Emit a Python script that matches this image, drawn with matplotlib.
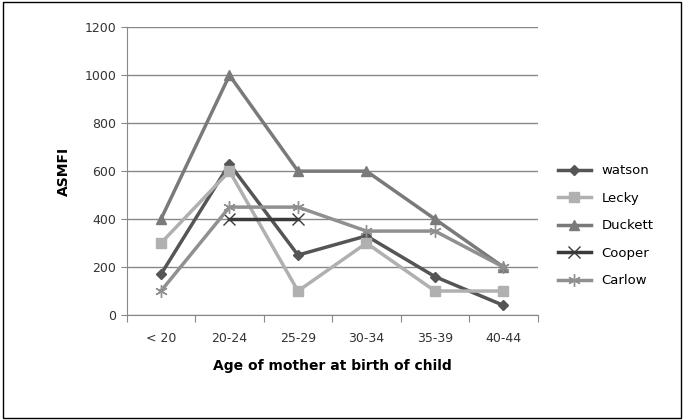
import matplotlib.pyplot as plt

ages = ["< 20", "20-24", "25-29", "30-34", "35-39", "40-44"]
watson = [170, 630, 250, 330, 160, 40]
lecky = [300, 600, 100, 300, 100, 100]
duckett = [400, 1000, 600, 600, 400, 200]
cooper = [None, 400, 400, None, None, None]
carlow = [100, 450, 450, 350, 350, 200]

fig = plt.figure(figsize=(6.85, 4.2), dpi=100)
fig.patches.append(plt.Rectangle((0.004, 0.005), 0.99, 0.99, transform=fig.transFigure,
                                 fill=False, edgecolor="black", lw=1))
ax = fig.add_axes([0.185, 0.25, 0.60, 0.685])
x = list(range(len(ages)))

def pts(vals):
    xs = [i for i, v in zip(x, vals) if v is not None]
    ys = [v for v in vals if v is not None]
    return xs, ys

ax.plot(*pts(watson), color="#555555", marker="D", ms=5.5, lw=2.5, label="watson")
ax.plot(*pts(lecky), color="#b0b0b0", marker="s", ms=7.5, lw=2.5, label="Lecky")
ax.plot(*pts(duckett), color="#7a7a7a", marker="^", ms=7.5, lw=2.5, label="Duckett")
ax.plot(*pts(cooper), color="#3a3a3a", marker="x", ms=8, mew=1, lw=2.5, label="Cooper")
ax.plot(*pts(carlow), color="#909090", marker=(6, 2, 0), ms=9, mew=1, lw=2.5, label="Carlow")

ax.set_xlim(-0.5, 5.5)
ax.set_ylim(0, 1200)
ax.set_yticks(range(0, 1201, 200))
ax.set_xticks([i + 0.5 for i in range(-1, 6)], minor=False)
ax.set_xticklabels([""] * 7)
ax.set_xticks(x, minor=True)
ax.set_xticklabels(ages, minor=True)
ax.tick_params(axis="x", which="minor", length=0, pad=12, labelsize=9, colors="#333333")
ax.tick_params(axis="x", which="major", length=5, color="#888888")
ax.tick_params(axis="y", length=4, color="#888888", labelsize=9, labelcolor="#333333")
ax.grid(axis="y", color="#888888", lw=1)
ax.set_axisbelow(True)
for s in ["top", "right"]:
    ax.spines[s].set_visible(False)
for s in ["left", "bottom"]:
    ax.spines[s].set_color("#888888")
ax.set_xlabel("Age of mother at birth of child", fontsize=10, fontweight="bold", labelpad=10)
ax.set_ylabel("ASMFI", fontsize=10, fontweight="bold", labelpad=10)
ax.legend(loc="center left", bbox_to_anchor=(1.02, 0.31), frameon=False,
          fontsize=9.5, labelspacing=1.1, handlelength=2.5)

fig.savefig("out.png", dpi=100)
